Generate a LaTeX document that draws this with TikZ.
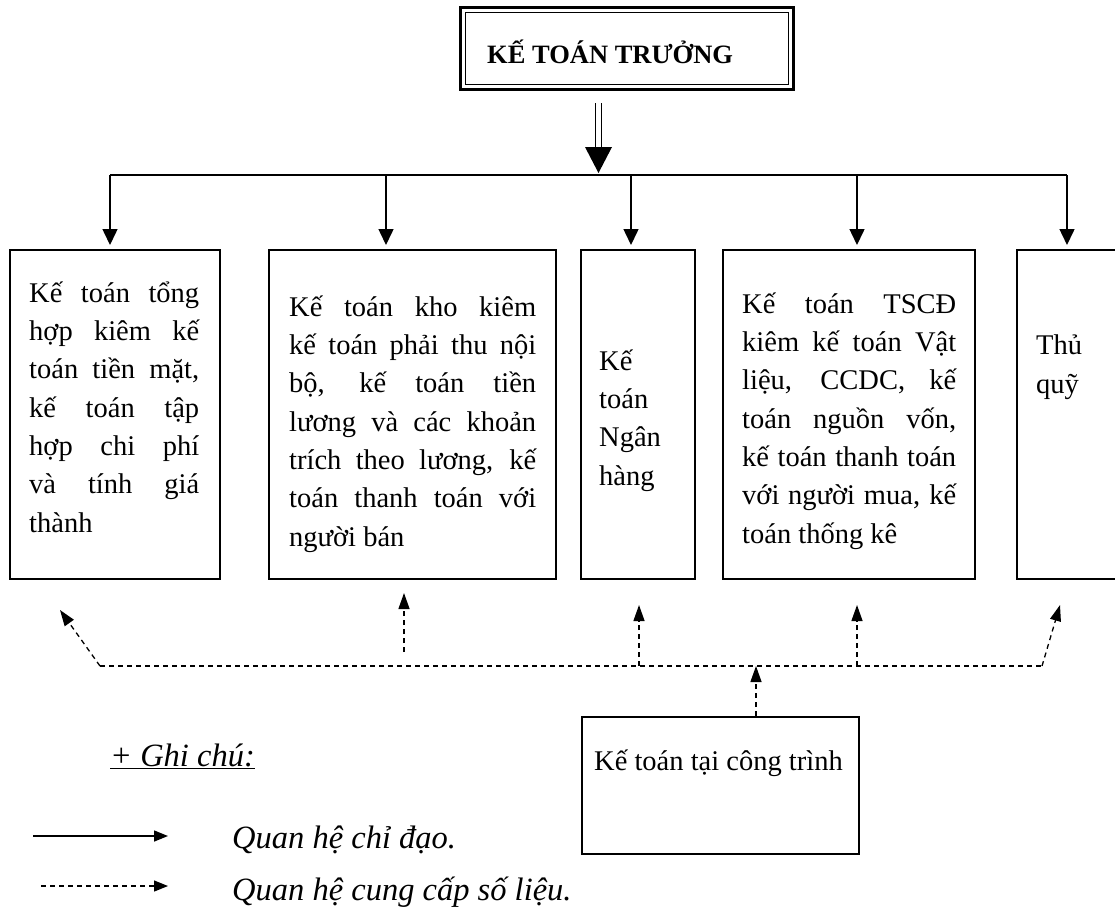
\documentclass[tikz,border=0pt]{standalone}
\usepackage{fontspec}
\setmainfont{Liberation Serif}
\usetikzlibrary{arrows.meta}
% justified line of a given width (in pt)
\newcommand\jl[2]{\makebox[#1pt][s]{#2}}

\begin{document}
\begin{tikzpicture}[x=1pt,y=-1pt,
  unitbox/.style={draw, line width=1.5pt, inner sep=0pt, anchor=north west},
  % multi-line texts are placed by the baseline of their last line
  bodytext/.style={inner sep=0pt, anchor=base west, align=left,
    font=\fontsize{28.5pt}{38.3pt}\selectfont},
  legendtext/.style={inner sep=0pt, anchor=base west,
    font=\itshape\fontsize{32.5pt}{38pt}\selectfont},
  leadline/.style={line width=1.5pt},
  leadarrow/.style={line width=1.5pt, -{Triangle[width=15pt,length=16pt]}},
  dataline/.style={line width=1.3pt, dash pattern=on 5pt off 4pt},
  dataarrow/.style={dataline, -{Triangle[width=11pt,length=16pt]}}
]
\useasboundingbox (0,0) rectangle (1115,916);
\clip (0,0) rectangle (1115,916);

% chief accountant, double frame
\node[draw, line width=2.5pt, minimum width=333pt, minimum height=82pt,
      anchor=north west, inner sep=0pt] (chief) at (459,6) {};
\draw[line width=1pt] ([shift={(6.5,6.5)}]chief.north west)
      rectangle ([shift={(-6.5,-6.5)}]chief.south east);
\node[inner sep=0pt, anchor=base west,
      font=\bfseries\fontsize{26.5pt}{30pt}\selectfont] (chieflabel) at (487,63)
      {KẾ TOÁN TRƯỞNG};

% accounting units
\node[unitbox, minimum width=210pt, minimum height=329pt] (u1) at (9,249) {};
\node[unitbox, minimum width=287pt, minimum height=329pt] (u2) at (268,249) {};
\node[unitbox, minimum width=114pt, minimum height=329pt] (u3) at (580,249) {};
\node[unitbox, minimum width=252pt, minimum height=329pt] (u4) at (722,249) {};
\node[unitbox, minimum width=130pt, minimum height=329pt] (u5) at (1016,249) {};
\node[unitbox, minimum width=277pt, minimum height=137pt] (site) at (581,716) {};

\node[bodytext] (u1t) at (29,532) {%
  \jl{170}{Kế toán tổng}\\
  \jl{170}{hợp kiêm kế}\\
  \jl{170}{toán tiền mặt,}\\
  \jl{170}{kế toán tập}\\
  \jl{170}{hợp chi phí}\\
  \jl{170}{và tính giá}\\
  thành};
\node[bodytext] (u2t) at (289,546) {%
  \jl{247}{Kế toán kho kiêm}\\
  \jl{247}{kế toán phải thu nội}\\
  \jl{247}{bộ, kế toán tiền}\\
  \jl{247}{lương và các khoản}\\
  \jl{247}{trích theo lương, kế}\\
  \jl{247}{toán thanh toán với}\\
  người bán};
\node[bodytext] (u3t) at (599,485) {Kế\\toán\\Ngân\\hàng};
\node[bodytext] (u4t) at (742,543) {%
  \jl{214}{Kế toán TSCĐ}\\
  \jl{214}{kiêm kế toán Vật}\\
  \jl{214}{liệu, CCDC, kế}\\
  \jl{214}{toán nguồn vốn,}\\
  \jl{214}{kế toán thanh toán}\\
  \jl{214}{với người mua, kế}\\
  toán thống kê};
\node[bodytext] (u5t) at (1036,393) {Thủ\\quỹ};
\node[bodytext] (sitet) at (594,770) {Kế toán tại công trình};

% direction: double arrow down to the distribution line
\coordinate (da) at (598.5,103);
\coordinate (db) at (598.5,147);
\coordinate (dc) at (598.5,173);
\draw[line width=1.2pt] ([xshift=-2.7pt]da) -- ([xshift=-2.7pt]db);
\draw[line width=1.2pt] ([xshift=2.7pt]da) -- ([xshift=2.7pt]db);
\fill ([xshift=-13.5pt]db) -- ([xshift=13.5pt]db) -- (dc) -- cycle;

\coordinate (a1) at (110,175);
\coordinate (a2) at (386,175);
\coordinate (a3) at (631,175);
\coordinate (a4) at (857,175);
\coordinate (a5) at (1067,175);
\draw[leadline] (a1) -- (a5);
\draw[leadarrow, shorten >=4pt] (a1) -- (a1 |- u1.north);
\draw[leadarrow, shorten >=4pt] (a2) -- (a2 |- u2.north);
\draw[leadarrow, shorten >=4pt] (a3) -- (a3 |- u3.north);
\draw[leadarrow, shorten >=4pt] (a4) -- (a4 |- u4.north);
\draw[leadarrow, shorten >=4pt] (a5) -- (a5 |- u5.north);

% data supply from the site accountant
\coordinate (bl) at (100,666);
\coordinate (br) at (1042,666);
\coordinate (s2) at (404,652);
\coordinate (s3) at (639,666);
\coordinate (s4) at (857,666);
\coordinate (sc) at (756,666);
\coordinate (t1) at (60,610);
\coordinate (t2) at (404,593);
\coordinate (t3) at (639,605);
\coordinate (t4) at (857,605);
\coordinate (t5) at (1060,605);
\draw[dataline] (bl) -- (br);
\draw[dataarrow] (bl) -- (t1);
\draw[dataarrow] (s2) -- (t2);
\draw[dataarrow] (s3) -- (t3);
\draw[dataarrow] (s4) -- (t4);
\draw[dataarrow] (br) -- (t5);
\draw[dataarrow] (site.north -| sc) -- (sc);

% legend
\node[legendtext] (note) at (110,766) {\underline{+ Ghi chú:}};
\coordinate (k1) at (33,836);
\coordinate (k2) at (168,836);
\coordinate (k3) at (41,886);
\coordinate (k4) at (168,886);
\draw[line width=1.5pt, -{Triangle[width=11pt,length=14pt]}] (k1) -- (k2);
\draw[dataline, -{Triangle[width=11pt,length=14pt]}] (k3) -- (k4);
\node[legendtext] (lead) at (232,848) {Quan hệ chỉ đạo.};
\node[legendtext] (supply) at (232,900) {Quan hệ cung cấp số liệu.};
\end{tikzpicture}
\end{document}
